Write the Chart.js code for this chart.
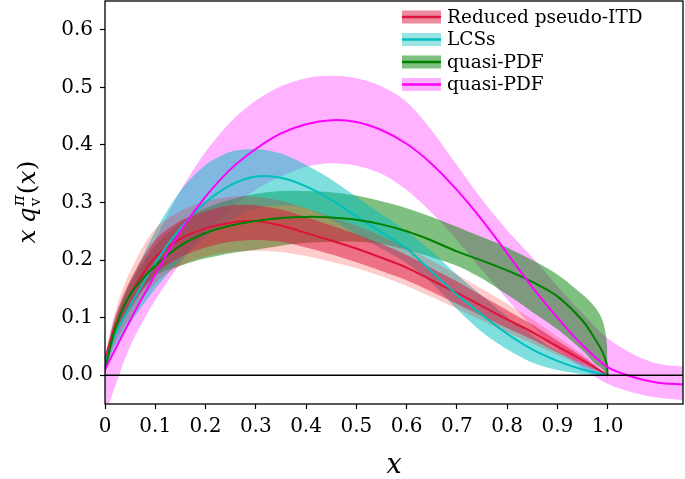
<!DOCTYPE html>
<html>
<head>
<meta charset="utf-8">
<script src="https://cdn.jsdelivr.net/npm/chart.js@4.4.0/dist/chart.umd.min.js"></script>
<style>
  body { margin: 0; background: #fff; }
  #wrap { width: 685px; height: 479px; }
</style>
</head>
<body>
<div id="wrap"><canvas id="c" width="685" height="479"></canvas></div>
<script>
// x grids
const xGrid = [0, 0.02, 0.05, 0.1, 0.15, 0.2, 0.25, 0.3, 0.35, 0.4, 0.45, 0.5, 0.55, 0.6, 0.65, 0.7, 0.75, 0.8, 0.85, 0.9, 0.95, 1.0];
const xGreen = [0, 0.02, 0.05, 0.1, 0.15, 0.2, 0.25, 0.3, 0.35, 0.4, 0.45, 0.5, 0.55, 0.6, 0.65, 0.7, 0.75, 0.8, 0.85, 0.9, 0.95, 0.975, 0.99, 0.998, 1.0];
const xMagenta = [0, 0.05, 0.1, 0.15, 0.2, 0.25, 0.3, 0.35, 0.4, 0.45, 0.5, 0.55, 0.6, 0.65, 0.7, 0.75, 0.8, 0.85, 0.9, 0.95, 1.0, 1.05, 1.1, 1.15];

// Reduced pseudo-ITD
const redMid = [0.025, 0.085, 0.14, 0.205, 0.237, 0.255, 0.265, 0.268, 0.26, 0.247, 0.234, 0.22, 0.204, 0.187, 0.165, 0.143, 0.12, 0.097, 0.075, 0.05, 0.026, 0.0];
const redInHi = [0.03, 0.1, 0.165, 0.235, 0.268, 0.285, 0.295, 0.295, 0.288, 0.275, 0.26, 0.245, 0.228, 0.209, 0.186, 0.163, 0.138, 0.113, 0.088, 0.06, 0.032, 0.0];
const redInLo = [0.015, 0.065, 0.115, 0.175, 0.205, 0.222, 0.232, 0.235, 0.232, 0.222, 0.21, 0.196, 0.181, 0.165, 0.145, 0.124, 0.103, 0.082, 0.062, 0.04, 0.02, 0.0];
const redOutHi = [0.035, 0.11, 0.18, 0.255, 0.285, 0.302, 0.31, 0.31, 0.303, 0.29, 0.275, 0.26, 0.242, 0.222, 0.199, 0.175, 0.15, 0.124, 0.097, 0.067, 0.036, 0.0];
const redOutLo = [0.01, 0.055, 0.1, 0.16, 0.19, 0.206, 0.214, 0.216, 0.214, 0.207, 0.197, 0.186, 0.172, 0.155, 0.136, 0.116, 0.095, 0.074, 0.055, 0.035, 0.017, 0.0];

// LCSs
const cyanMid = [0.02, 0.07, 0.12, 0.195, 0.255, 0.30, 0.33, 0.345, 0.343, 0.328, 0.305, 0.276, 0.248, 0.22, 0.18, 0.14, 0.105, 0.072, 0.045, 0.025, 0.01, 0.0];
const cyanHi = [0.03, 0.1, 0.16, 0.25, 0.32, 0.365, 0.388, 0.393, 0.385, 0.365, 0.34, 0.31, 0.28, 0.25, 0.215, 0.175, 0.138, 0.102, 0.07, 0.042, 0.02, 0.0];
const cyanLo = [0.01, 0.05, 0.09, 0.15, 0.20, 0.24, 0.27, 0.29, 0.295, 0.29, 0.27, 0.245, 0.22, 0.195, 0.16, 0.115, 0.075, 0.045, 0.022, 0.009, 0.002, 0.0];

// quasi-PDF (green)
const greenMid = [0.01, 0.08, 0.14, 0.19, 0.225, 0.247, 0.26, 0.268, 0.273, 0.275, 0.274, 0.27, 0.262, 0.25, 0.234, 0.215, 0.199, 0.182, 0.162, 0.137, 0.095, 0.063, 0.04, 0.02, 0.0];
const greenHi = [0.02, 0.09, 0.16, 0.225, 0.265, 0.29, 0.305, 0.315, 0.32, 0.32, 0.318, 0.312, 0.302, 0.29, 0.275, 0.258, 0.24, 0.222, 0.2, 0.175, 0.14, 0.118, 0.095, 0.06, 0.0];
const greenLo = [0.0, 0.07, 0.12, 0.172, 0.19, 0.203, 0.212, 0.218, 0.225, 0.23, 0.232, 0.232, 0.228, 0.218, 0.205, 0.19, 0.168, 0.14, 0.11, 0.08, 0.043, 0.02, 0.01, 0.0, -0.012];

// quasi-PDF (magenta)
const magMid = [0.01, 0.095, 0.175, 0.25, 0.31, 0.358, 0.393, 0.42, 0.436, 0.443, 0.44, 0.426, 0.402, 0.367, 0.322, 0.27, 0.212, 0.153, 0.10, 0.052, 0.014, -0.003, -0.013, -0.016];
const magHi = [0.04, 0.14, 0.235, 0.32, 0.388, 0.44, 0.477, 0.502, 0.516, 0.52, 0.516, 0.502, 0.475, 0.425, 0.365, 0.305, 0.252, 0.205, 0.155, 0.107, 0.064, 0.037, 0.02, 0.015];
const magLo = [-0.07, 0.05, 0.13, 0.195, 0.25, 0.29, 0.322, 0.345, 0.362, 0.368, 0.364, 0.35, 0.322, 0.282, 0.235, 0.183, 0.132, 0.085, 0.045, 0.012, -0.015, -0.03, -0.039, -0.043];

const zeroX = [0, 1.15];
const zeroY = [0, 0];

const xTicks = [0, 0.1, 0.2, 0.3, 0.4, 0.5, 0.6, 0.7, 0.8, 0.9, 1.0];
const yTicks = [0, 0.1, 0.2, 0.3, 0.4, 0.5, 0.6];

const legendLabels = ['Reduced pseudo-ITD', 'LCSs', 'quasi-PDF', 'quasi-PDF'];
const legendLines = ['#dc143c', '#00bfbf', '#008000', '#ff00ff'];
const legendBands = ['rgba(220,20,60,0.5)', 'rgba(0,191,191,0.4)', 'rgba(0,128,0,0.5)', 'rgba(255,0,255,0.3)'];

function pts(xs, ys) {
  return xs.map((x, i) => ({ x: x, y: ys[i] }));
}

function band(xs, lo, hi, color, order) {
  return [
    { data: pts(xs, lo), borderWidth: 0, pointRadius: 0, fill: false, order: order },
    { data: pts(xs, hi), borderWidth: 0, pointRadius: 0, fill: '-1', backgroundColor: color, order: order - 1 }
  ];
}

function line(xs, ys, color, order) {
  return { data: pts(xs, ys), borderColor: color, borderWidth: 2, pointRadius: 0, fill: false, order: order };
}

const datasets = [
  ...band(xMagenta, magLo, magHi, 'rgba(255,0,255,0.3)', 100),
  ...band(xGreen, greenLo, greenHi, 'rgba(0,128,0,0.5)', 90),
  ...band(xGrid, cyanLo, cyanHi, 'rgba(0,191,191,0.5)', 80),
  ...band(xGrid, redOutLo, redOutHi, 'rgba(255,0,0,0.2)', 70),
  ...band(xGrid, redInLo, redInHi, 'rgba(220,20,60,0.5)', 60),
  line(xGrid, redMid, '#dc143c', 14),
  line(xGrid, cyanMid, '#00bfbf', 13),
  line(xGreen, greenMid, '#008000', 12),
  line(xMagenta, magMid, '#ff00ff', 11),
  { data: pts(zeroX, zeroY), borderColor: '#000', borderWidth: 1.5, pointRadius: 0, fill: false, order: 1, tension: 0 }
];

const serif = "'DejaVu Serif', serif";

const decor = {
  id: 'decor',
  afterDraw(chart) {
    const ctx = chart.ctx;
    const a = chart.chartArea;
    ctx.save();
    // frame
    ctx.strokeStyle = '#000';
    ctx.lineWidth = 1.3;
    ctx.strokeRect(a.left, a.top, a.right - a.left, a.bottom - a.top);

    // legend
    ctx.textBaseline = 'middle';
    ctx.textAlign = 'left';
    ctx.font = '18.5px ' + serif;
    legendLabels.forEach((lab, i) => {
      const cy = 17 + i * 22.5;
      ctx.fillStyle = legendBands[i];
      ctx.fillRect(402, cy - 6.5, 39, 13);
      ctx.strokeStyle = legendLines[i];
      ctx.lineWidth = 2.5;
      ctx.beginPath();
      ctx.moveTo(402, cy);
      ctx.lineTo(441, cy);
      ctx.stroke();
      ctx.fillStyle = '#000';
      ctx.fillText(lab, 447, cy + 1);
    });

    // x axis title
    ctx.textAlign = 'center';
    ctx.font = 'italic 27px ' + serif;
    ctx.fillText('x', (a.left + a.right) / 2, 466);

    // y axis title: x q_v^pi (x)
    ctx.translate(27, 202);
    ctx.rotate(-Math.PI / 2);
    const big = 'italic 25px ' + serif;
    const rom = '25px ' + serif;
    const supF = 'italic 17px ' + serif;
    const subF = '15px ' + serif;
    ctx.font = big; const wx = ctx.measureText('x').width; const wq = ctx.measureText('q').width;
    ctx.font = supF; const wPi = ctx.measureText('\u03c0').width;
    ctx.font = subF; const wV = ctx.measureText('v').width;
    const wScript = Math.max(wPi, wV) + 2;
    ctx.font = rom; const wOpen = ctx.measureText('(').width; const wClose = ctx.measureText(')').width;
    const gap = 6;
    const total = wx + gap + wq + wScript + wOpen + wx + wClose;
    let cx = -total / 2;
    ctx.textAlign = 'left';
    ctx.textBaseline = 'alphabetic';
    const base = 8;
    ctx.font = big; ctx.fillText('x', cx, base); cx += wx + gap;
    ctx.fillText('q', cx, base); cx += wq;
    ctx.font = supF; ctx.fillText('\u03c0', cx + 1, base - 11);
    ctx.font = subF; ctx.fillText('v', cx + 1, base + 5);
    cx += wScript;
    ctx.font = rom; ctx.fillText('(', cx, base); cx += wOpen;
    ctx.font = big; ctx.fillText('x', cx, base); cx += wx;
    ctx.font = rom; ctx.fillText(')', cx, base);
    ctx.restore();
  }
};

new Chart(document.getElementById('c'), {
  type: 'line',
  data: { datasets: datasets },
  plugins: [decor],
  options: {
    responsive: false,
    animation: false,
    layout: { padding: { top: 1, right: 2, left: 0, bottom: 0 } },
    elements: { line: { tension: 0.3 } },
    plugins: { legend: { display: false }, tooltip: { enabled: false }, filler: { propagate: false } },
    scales: {
      x: {
        type: 'linear', min: 0, max: 1.15,
        afterBuildTicks: s => { s.ticks = xTicks.map(v => ({ value: v })); },
        afterFit: s => { s.height = 75; s.paddingLeft = 0; s.paddingRight = 0; },
        grid: { drawOnChartArea: false, drawTicks: true, tickLength: 5, tickColor: '#000', tickWidth: 1.2 },
        border: { display: false },
        ticks: {
          autoSkip: false, maxRotation: 0, padding: 6, color: '#000',
          font: { family: serif, size: 20 },
          callback: v => v === 0 ? '0' : v.toFixed(1)
        }
      },
      y: {
        type: 'linear', min: -0.05, max: 0.65,
        afterBuildTicks: s => { s.ticks = yTicks.map(v => ({ value: v })); },
        afterFit: s => { s.width = 105; s.paddingTop = 0; s.paddingBottom = 0; },
        grid: { drawOnChartArea: false, drawTicks: true, tickLength: 5, tickColor: '#000', tickWidth: 1.2 },
        border: { display: false },
        ticks: {
          padding: 7, color: '#000',
          font: { family: serif, size: 20 },
          callback: v => v.toFixed(1)
        }
      }
    }
  }
});
</script>
</body>
</html>
